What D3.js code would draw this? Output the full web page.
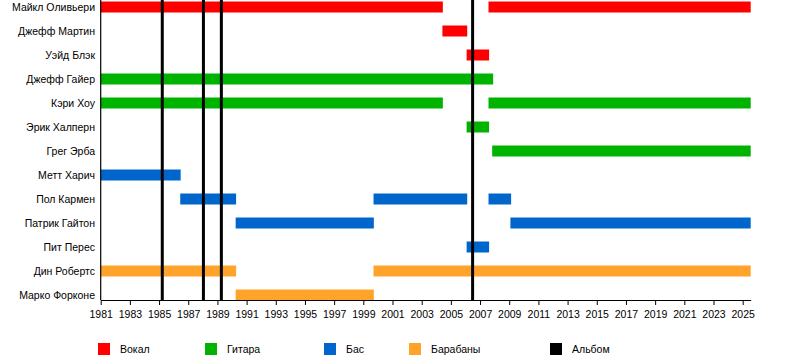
<!DOCTYPE html>
<html><head><meta charset="utf-8">
<script src="https://cdn.jsdelivr.net/npm/d3@7"></script>
<style>
body{margin:0;background:#fff;}
svg text{font-family:"Liberation Sans",Arial,sans-serif;font-size:10.5px;fill:#000;}
</style></head>
<body><svg id="c" width="800" height="360"></svg>
<script>
const members = ["Майкл Оливьери","Джефф Мартин","Уэйд Блэк","Джефф Гайер","Кэри Хоу","Эрик Халперн","Грег Эрба","Метт Харич","Пол Кармен","Патрик Гайтон","Пит Перес","Дин Робертс","Марко Форконе"];
const roles = ["Вокал","Гитара","Бас","Барабаны"];
const roleColors = ["#ff0000","#00b300","#0066cc","#ffa32b"];
const albumLabel = "Альбом";
const startYear = 1981, endYear = 2025.55;
// member, role index, start, end
const periodMember = ["Майкл Оливьери","Майкл Оливьери","Джефф Мартин","Уэйд Блэк","Джефф Гайер","Кэри Хоу","Кэри Хоу","Эрик Халперн","Грег Эрба","Метт Харич","Пол Кармен","Пол Кармен","Пол Кармен","Патрик Гайтон","Патрик Гайтон","Пит Перес","Дин Робертс","Дин Робертс","Марко Форконе"];
const periodRole = [0,0,0,0,1,1,1,1,1,2,2,2,2,2,2,2,3,3,3];
const periodStart = [1981,2007.58,2004.42,2006.08,1981,1981,2007.58,2006.08,2007.83,1981,1986.45,1999.7,2007.58,1990.25,2009.08,2006.08,1981,1999.7,1990.25];
const periodEnd = [2004.45,endYear,2006.12,2007.62,2007.9,2004.45,endYear,2007.62,endYear,1986.48,1990.28,2006.12,2009.13,1999.72,endYear,2007.62,1990.28,endYear,1999.72];
const albums = [1985.22,1988.04,1989.27,2006.49];
const tickYears = d3.range(1981,2026,2);

const svg = d3.select("#c");
const plotLeft = 100.7, plotRight = 750.7, plotTop = 0, axisY = 300;
const x = d3.scaleLinear().domain([startYear,endYear]).range([plotLeft,plotRight]);
const y = d3.scalePoint().domain(members).range([7,295]);
const barH = 11;

// bars
periodMember.forEach((m,i)=>{
  svg.append("rect")
    .attr("x", x(periodStart[i]))
    .attr("y", y(m)-barH/2)
    .attr("width", x(periodEnd[i])-x(periodStart[i]))
    .attr("height", barH)
    .attr("fill", roleColors[periodRole[i]]);
});

// album lines
svg.selectAll("line.album").data(albums).enter().append("line")
  .attr("class","album")
  .attr("x1",d=>x(d)).attr("x2",d=>x(d))
  .attr("y1",plotTop).attr("y2",axisY)
  .attr("stroke","#000").attr("stroke-width",3);

// left axis line
svg.append("line").attr("x1",plotLeft).attr("x2",plotLeft).attr("y1",plotTop).attr("y2",axisY)
  .attr("stroke","#000").attr("stroke-width",1.2);

// member labels
svg.selectAll("text.m").data(members).enter().append("text")
  .attr("class","m")
  .attr("x",95).attr("y",d=>y(d)+4)
  .attr("text-anchor","end").text(d=>d);

// x axis
const ax = d3.axisBottom(x).tickValues(tickYears).tickFormat(d3.format("d")).tickSize(5).tickSizeOuter(0);
const g = svg.append("g").attr("transform",`translate(0,${axisY})`).call(ax);
g.select(".domain").attr("stroke","#000");
g.selectAll(".tick line").attr("stroke","#000");
g.selectAll(".tick text").attr("font-family","Liberation Sans, Arial, sans-serif").attr("font-size",10).attr("dy","0.95em").attr("fill","#000");

// legend
const legendLabels = roles.concat([albumLabel]);
const legendColors = roleColors.concat(["#000"]);
const legendX = [98,205,324,409,550];
legendLabels.forEach((t,i)=>{
  svg.append("rect").attr("x",legendX[i]).attr("y",343).attr("width",12).attr("height",12).attr("fill",legendColors[i]);
  svg.append("text").attr("x",legendX[i]+22).attr("y",353).text(t);
});
</script></body></html>
